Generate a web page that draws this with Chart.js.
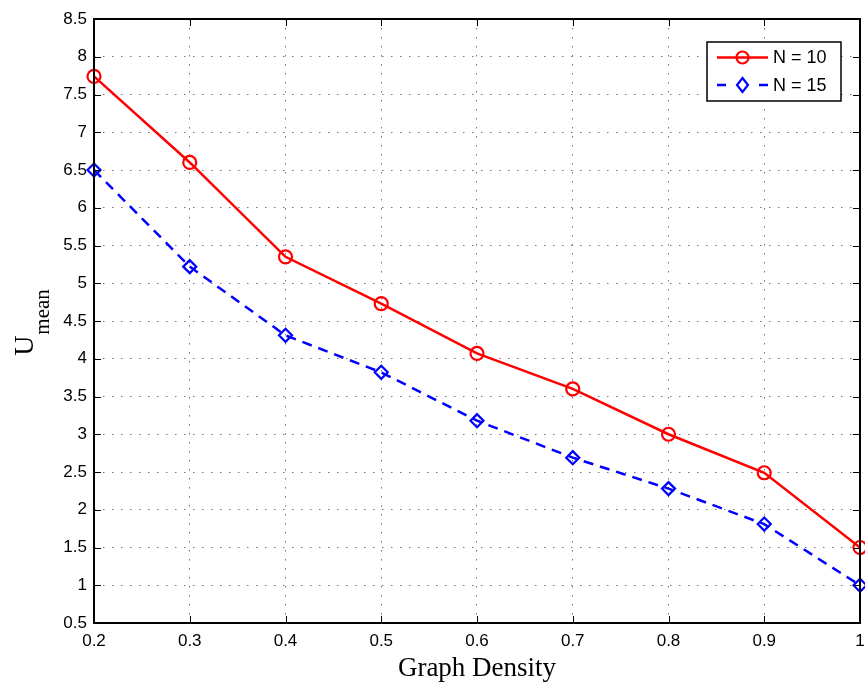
<!DOCTYPE html>
<html>
<head>
<meta charset="utf-8">
<script src="https://cdn.jsdelivr.net/npm/chart.js@4/dist/chart.umd.min.js"></script>
<style>
    html, body { margin: 0; padding: 0; background: #fff; }
    #wrap { width: 865px; height: 684px; }
</style>
</head>
<body>
<div id="wrap"><canvas id="chart" width="865" height="684"></canvas></div>
<script>
// Chart data
const density = [0.2, 0.3, 0.4, 0.5, 0.6, 0.7, 0.8, 0.9, 1.0];
const umeanN10 = [7.74, 6.6, 5.35, 4.73, 4.07, 3.6, 3.0, 2.49, 1.5];
const umeanN15 = [6.5, 5.22, 4.31, 3.82, 3.18, 2.69, 2.28, 1.81, 1.0];
const seriesLabels = ['N = 10', 'N = 15'];
const xTitle = 'Graph Density';
const yTitleMain = 'U';
const yTitleSub = 'mean';

const tickFont = { family: 'Liberation Sans, Arial, sans-serif', size: 17 };

function toPoints(values) {
    return density.map((x, i) => ({ x: x, y: values[i] }));
}

// Frame, inward ticks, axis titles and legend drawn MATLAB-style
const matlabDecor = {
    id: 'matlabDecor',
    afterDraw(chart) {
        const { ctx, chartArea: a, scales } = chart;
        const xs = scales.x, ys = scales.y;
        ctx.save();

        // inward ticks on all four sides
        ctx.strokeStyle = '#000';
        ctx.lineWidth = 1;
        const tl = 7;
        ctx.beginPath();
        xs.ticks.forEach(t => {
            const px = Math.round(xs.getPixelForValue(t.value)) + 0.5;
            ctx.moveTo(px, a.bottom); ctx.lineTo(px, a.bottom - tl);
            ctx.moveTo(px, a.top); ctx.lineTo(px, a.top + tl);
        });
        ys.ticks.forEach(t => {
            const py = Math.round(ys.getPixelForValue(t.value)) + 0.5;
            ctx.moveTo(a.left, py); ctx.lineTo(a.left + tl, py);
            ctx.moveTo(a.right, py); ctx.lineTo(a.right - tl, py);
        });
        ctx.stroke();

        // box
        ctx.lineWidth = 2;
        ctx.strokeRect(a.left, a.top, a.right - a.left, a.bottom - a.top);

        // x title
        ctx.fillStyle = '#000';
        ctx.font = '27px "Liberation Serif", "Times New Roman", serif';
        ctx.textAlign = 'center';
        ctx.textBaseline = 'alphabetic';
        ctx.fillText(xTitle, (a.left + a.right) / 2, 676);

        // y title with subscript
        ctx.translate(33, 323);
        ctx.rotate(-Math.PI / 2);
        ctx.font = '28px "Liberation Serif", "Times New Roman", serif';
        const wMain = ctx.measureText(yTitleMain).width;
        ctx.font = '21px "Liberation Serif", "Times New Roman", serif';
        const wSub = ctx.measureText(yTitleSub).width;
        const start = -(wMain + wSub) / 2;
        ctx.textAlign = 'left';
        ctx.font = '28px "Liberation Serif", "Times New Roman", serif';
        ctx.fillText(yTitleMain, start, 0);
        ctx.font = '21px "Liberation Serif", "Times New Roman", serif';
        ctx.fillText(yTitleSub, start + wMain + 1, 16);
        ctx.setTransform(1, 0, 0, 1, 0, 0);

        // legend
        const lx = 707, ly = 42, lw = 134, lh = 59;
        ctx.fillStyle = '#fff';
        ctx.fillRect(lx, ly, lw, lh);
        ctx.strokeStyle = '#000';
        ctx.lineWidth = 1.5;
        ctx.strokeRect(lx, ly, lw, lh);
        const rows = [57.5, 85];
        chart.data.datasets.forEach((ds, i) => {
            const y = rows[i];
            ctx.strokeStyle = ds.borderColor;
            ctx.lineWidth = ds.borderWidth;
            ctx.beginPath();
            if (ds.borderDash) {
                ctx.moveTo(717, y); ctx.lineTo(726, y);
                ctx.moveTo(759, y); ctx.lineTo(768, y);
            } else {
                ctx.moveTo(717, y); ctx.lineTo(768, y);
            }
            ctx.stroke();
            ctx.lineWidth = ds.pointBorderWidth;
            ctx.beginPath();
            if (ds.pointStyle === 'circle') {
                ctx.arc(742.5, y, 6, 0, Math.PI * 2);
            } else {
                ctx.moveTo(742.5, y - 7); ctx.lineTo(748, y);
                ctx.lineTo(742.5, y + 7); ctx.lineTo(737, y);
                ctx.closePath();
            }
            ctx.stroke();
            ctx.fillStyle = '#000';
            ctx.font = '18px "Liberation Sans", Arial, sans-serif';
            ctx.textAlign = 'left';
            ctx.textBaseline = 'middle';
            ctx.fillText(ds.label, 773, y + 1);
        });
        ctx.restore();
    }
};

new Chart(document.getElementById('chart'), {
    type: 'line',
    data: {
        datasets: [
            {
                label: seriesLabels[0],
                data: toPoints(umeanN10),
                borderColor: '#ff0000',
                borderWidth: 2.5,
                pointStyle: 'circle',
                pointRadius: 6.5,
                pointBorderWidth: 2.2,
                pointBackgroundColor: 'rgba(0,0,0,0)',
                pointBorderColor: '#ff0000',
                tension: 0,
                clip: false
            },
            {
                label: seriesLabels[1],
                data: toPoints(umeanN15),
                borderColor: '#0000ff',
                borderWidth: 2.5,
                borderDash: [10, 7],
                pointStyle: 'rectRot',
                pointRadius: 6.5,
                pointBorderWidth: 2.2,
                pointBackgroundColor: 'rgba(0,0,0,0)',
                pointBorderColor: '#0000ff',
                tension: 0,
                clip: false
            }
        ]
    },
    options: {
        responsive: false,
        animation: false,
        layout: {
            autoPadding: false,
            padding: { left: 0, top: 19, right: 5, bottom: 0 }
        },
        plugins: {
            legend: { display: false },
            tooltip: { enabled: false }
        },
        scales: {
            x: {
                type: 'linear',
                min: 0.2,
                max: 1,
                border: { display: false, dash: [1.5, 7.5] },
                ticks: {
                    stepSize: 0.1,
                    color: '#000',
                    font: tickFont,
                    padding: 8,
                    maxRotation: 0,
                    callback: v => String(Number(v.toFixed(1)))
                },
                grid: {
                    color: '#777',
                    lineWidth: 1,
                    drawTicks: false
                },
                afterFit: s => {
                    s.height = 61;
                    s.paddingLeft = 0;
                    s.paddingRight = 0;
                }
            },
            y: {
                min: 0.5,
                max: 8.5,
                border: { display: false, dash: [1.5, 7.5] },
                ticks: {
                    stepSize: 0.5,
                    color: '#000',
                    font: tickFont,
                    padding: 7,
                    callback: v => String(Number(v.toFixed(1)))
                },
                grid: {
                    color: '#777',
                    lineWidth: 1,
                    drawTicks: false
                },
                afterFit: s => {
                    s.width = 94;
                    s.paddingTop = 0;
                    s.paddingBottom = 0;
                }
            }
        }
    },
    plugins: [matlabDecor]
});
</script>
</body>
</html>
